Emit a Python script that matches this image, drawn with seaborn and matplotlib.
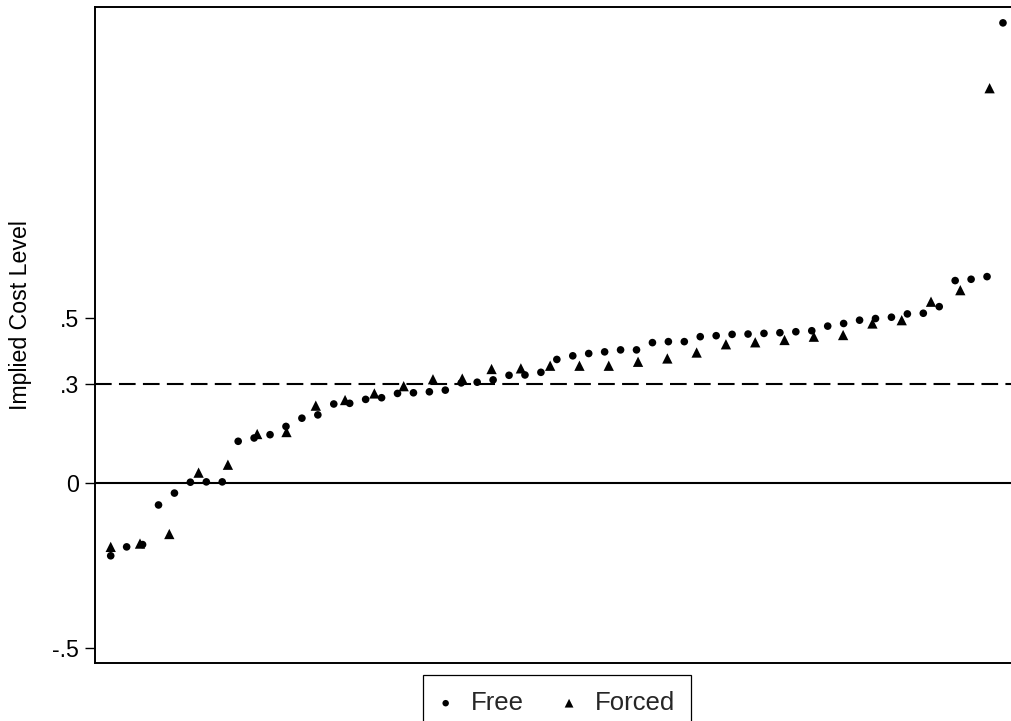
import numpy as np
import pandas as pd
import seaborn as sns
import matplotlib
matplotlib.use("Agg")
import matplotlib.pyplot as plt

# sorted implied cost estimates
free_cost = [-0.222, -0.195, -0.188, -0.068, -0.032, 0.001, 0.002, 0.002, 0.125, 0.135,
             0.145, 0.170, 0.195, 0.205, 0.238, 0.240, 0.252, 0.257, 0.270, 0.272,
             0.275, 0.280, 0.302, 0.304, 0.311, 0.325, 0.326, 0.334, 0.373, 0.384,
             0.391, 0.396, 0.402, 0.402, 0.424, 0.427, 0.427, 0.442, 0.445, 0.449,
             0.450, 0.452, 0.454, 0.457, 0.460, 0.474, 0.482, 0.492, 0.497, 0.501,
             0.511, 0.513, 0.533, 0.612, 0.616, 0.624, 1.393]
forced_cost = [-0.195, -0.185, -0.156, 0.030, 0.054, 0.147, 0.153, 0.233, 0.250, 0.270,
               0.292, 0.313, 0.315, 0.344, 0.346, 0.354, 0.354, 0.354, 0.366, 0.376,
               0.394, 0.419, 0.425, 0.432, 0.442, 0.447, 0.482, 0.492, 0.548, 0.583,
               1.195]

ytick_values = [-0.5, 0, 0.3, 0.5]
ytick_labels = ["-.5", "0", ".3", ".5"]


def quantile_frame(values):
    n = len(values)
    return pd.DataFrame({"quantile": np.arange(n) / n, "cost": values})


def main():
    sns.set_style("white")
    plt.rcParams["font.family"] = ["Liberation Sans", "DejaVu Sans"]

    W, H = 1011, 721
    fig = plt.figure(figsize=(W / 100, H / 100), dpi=100)
    ax = fig.add_axes([95 / W, 58.3 / H, 916 / W, 656 / H])

    free = quantile_frame(free_cost)
    forced = quantile_frame(forced_cost)

    ax.axhline(0, color="black", lw=1.5, zorder=1)
    ax.axhline(0.3, color="black", lw=1.5, ls=(0, (8, 3.5)), zorder=1)

    sns.scatterplot(data=free, x="quantile", y="cost", marker="o", s=30, color="black",
                    edgecolor="none", linewidth=0, label="Free", ax=ax, zorder=3)
    sns.scatterplot(data=forced, x="quantile", y="cost", marker="^", s=55, color="black",
                    edgecolor="none", linewidth=0, label="Forced", ax=ax, zorder=3)

    ax.set_xlim(-0.0173, 0.9913)
    ax.set_ylim(-0.546, 1.442)
    ax.set_xticks([])
    ax.set_yticks(ytick_values)
    ax.set_yticklabels(ytick_labels)
    ax.tick_params(axis="y", left=True, length=7, width=1, color="black",
                   labelsize=16.7, labelcolor="black", pad=4.5)
    ax.set_xlabel("")
    ax.set_ylabel("Implied Cost Level", fontsize=16.7, color="black")
    ax.yaxis.set_label_coords(-0.0688, 0.530)

    for side in ["left", "top", "bottom"]:
        ax.spines[side].set_color("black")
        ax.spines[side].set_linewidth(1.4)
    ax.spines["right"].set_visible(False)

    handles, labels = ax.get_legend_handles_labels()
    leg = ax.legend(handles, labels, loc="upper center",
                    bbox_to_anchor=(557 / W, (H - 675) / H), bbox_transform=fig.transFigure,
                    ncol=2, frameon=True, fancybox=False, edgecolor="black", framealpha=1,
                    fontsize=18.5, markerscale=0.85, handlelength=0.5, handletextpad=0.74,
                    columnspacing=1.5, borderpad=0.62, borderaxespad=0)
    leg.get_frame().set_linewidth(0.9)

    fig.savefig("out.png", dpi=100)


if __name__ == "__main__":
    main()
